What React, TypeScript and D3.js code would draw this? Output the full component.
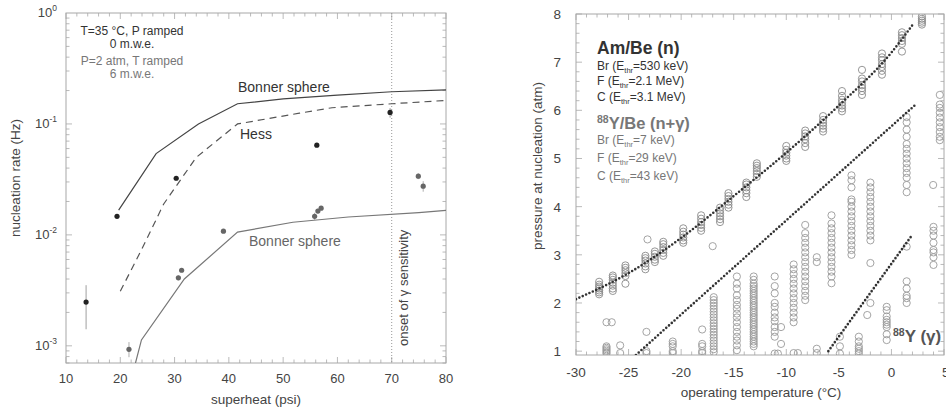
import React from "react";
import * as d3 from "d3";

const W = 946;
const H = 412;
const FONT = "'Liberation Sans', Arial, Helvetica, sans-serif";

// ---------------- Left panel data ----------------
const bonnerUpperX = [19.7, 26.6, 34.4, 41.6, 50, 60, 70, 80];
const bonnerUpperY = [0.0167, 0.054, 0.1, 0.152, 0.168, 0.182, 0.195, 0.203];
const hessX = [20, 24, 28, 34, 41.6, 53, 59, 70, 80];
const hessY = [0.0031, 0.0075, 0.019, 0.05, 0.1, 0.125, 0.14, 0.152, 0.163];
const bonnerLowerX = [22.8, 23.9, 31.8, 41.6, 51.8, 62, 75, 80];
const bonnerLowerY = [0.0007, 0.00113, 0.004, 0.0106, 0.013, 0.0145, 0.0159, 0.0166];

// T=35 C, P ramped (black)
const rampPX = [13.7, 19.4, 30.3, 56.2, 69.7];
const rampPY = [0.00248, 0.0147, 0.0324, 0.0643, 0.127];
const rampPLo = [0.00141, 0.0142, 0.0312, 0.062, 0.114];
const rampPHi = [0.00352, 0.0152, 0.0336, 0.0666, 0.139];
// P=2 atm, T ramped (gray)
const rampTX = [21.6, 30.7, 31.3, 39.0, 55.8, 56.4, 57.0, 74.9, 75.8];
const rampTY = [0.00093, 0.0041, 0.0048, 0.0108, 0.0147, 0.0164, 0.0174, 0.0338, 0.0275];
const rampTLo = [0.00079, 0.0039, 0.0046, 0.0104, 0.0136, 0.0156, 0.0168, 0.0318, 0.0245];
const rampTHi = [0.00108, 0.0043, 0.005, 0.0112, 0.0158, 0.0172, 0.018, 0.0358, 0.0305];

const leftXTicks = [10, 20, 30, 40, 50, 60, 70, 80];
const leftYTickExp = [0, -1, -2, -3];
const onsetX = 70;

// ---------------- Right panel data ----------------
const amBeT = [-27.8, -26.5, -25.3, -23.4, -22.5, -21.7, -19.8, -18.1, -16.3, -15.5, -13.8, -12.8, -10.0, -8.2, -6.5, -4.7, -2.8, -0.9, 1.0, 2.9];
const amBeP = [
  [2.18, 2.22, 2.26, 2.3, 2.34, 2.38, 2.44],
  [2.25, 2.3, 2.36, 2.42, 2.48, 2.53, 2.57],
  [2.4, 2.56, 2.62, 2.68, 2.73, 2.78],
  [2.7, 2.76, 2.82, 2.88, 2.93, 2.98],
  [2.85, 2.9, 2.96, 3.02, 3.07],
  [2.98, 3.04, 3.1, 3.16, 3.22, 3.27],
  [3.25, 3.3, 3.36, 3.42, 3.48, 3.55],
  [3.5, 3.56, 3.62, 3.68, 3.75, 3.82],
  [3.68, 3.74, 3.8, 3.86, 3.92, 3.98],
  [3.98, 4.04, 4.1, 4.16, 4.22, 4.28],
  [4.2, 4.28, 4.34, 4.4, 4.46, 4.5],
  [4.62, 4.68, 4.74, 4.8, 4.85, 4.9],
  [4.95, 5.0, 5.06, 5.12, 5.18, 5.26],
  [5.24, 5.32, 5.4, 5.46, 5.52, 5.58],
  [5.56, 5.62, 5.68, 5.74, 5.8, 5.88],
  [5.98, 6.04, 6.1, 6.16, 6.22, 6.3, 6.4],
  [6.32, 6.4, 6.46, 6.52, 6.6, 6.66, 6.84],
  [6.74, 6.82, 6.9, 6.96, 7.04, 7.1, 7.18],
  [7.22, 7.38, 7.44, 7.5, 7.56, 7.62],
  [7.78, 7.82, 7.86, 7.9, 7.95],
];

const yBeT = [-27.1, -25.8, -23.3, -20.8, -18.0, -16.9, -14.7, -13.1, -11.1, -10.5, -9.3, -8.2, -7.1, -5.7, -3.8, -2.0, 1.45, 4.6, 3.97, -17.0, -23.2];
const yBeP = [
  [0.95, 0.98, 1.01, 1.04, 1.07, 1.1, 1.6],
  [0.96, 1.12],
  [0.96, 1.0, 1.4],
  [0.96, 1.0, 1.1, 1.15, 1.2],
  [0.96, 1.0, 1.1, 1.15, 1.45],
  [0.98, 1.04, 1.1, 1.16, 1.22, 1.28, 1.34, 1.4, 1.46, 1.52, 1.58, 1.64, 1.7, 1.76, 1.82, 1.88, 1.94, 2.0, 2.06, 2.12],
  [1.02, 1.12, 1.22, 1.3, 1.4, 1.5, 1.6, 1.7, 1.78, 1.88, 1.96, 2.06, 2.16, 2.3, 2.4, 2.55],
  [1.1, 1.15, 1.2, 1.25, 1.3, 1.35, 1.4, 1.45, 1.5, 1.55, 1.6, 1.65, 1.7, 1.75, 1.8, 1.85, 1.9, 1.95, 2.0, 2.05, 2.1, 2.15, 2.2, 2.25, 2.3, 2.35, 2.4, 2.48, 2.55],
  [0.95, 1.3, 1.4, 1.5, 1.62, 1.7, 1.8, 1.92, 2.0, 2.2, 2.35, 2.55],
  [1.15, 1.5],
  [1.6, 1.7, 1.8, 1.9, 2.0, 2.1, 2.2, 2.3, 2.4, 2.5, 2.6, 2.7, 2.8, 0.96],
  [2.06, 2.15, 2.25, 2.35, 2.45, 2.55, 2.65, 2.75, 2.85, 2.95, 3.05, 3.15, 3.25, 3.35, 3.45, 3.62],
  [0.96, 1.05, 2.85, 2.95],
  [2.41, 2.55, 2.65, 2.75, 2.85, 2.95, 3.05, 3.15, 3.25, 3.35, 3.45, 3.55, 3.65, 3.82],
  [3.0, 3.1, 3.2, 3.3, 3.4, 3.5, 3.6, 3.7, 3.8, 3.9, 4.0, 4.1, 4.15, 4.4, 4.55, 4.65],
  [2.0, 2.83, 3.3, 3.4, 3.5, 3.6, 3.7, 3.8, 3.9, 4.0, 4.1, 4.2, 4.3, 4.4, 4.5],
  [4.3, 4.45, 4.6, 4.7, 4.8, 4.9, 5.0, 5.1, 5.2, 5.3, 5.45, 5.6, 5.75, 5.86],
  [5.38, 5.45, 5.55, 5.65, 5.75, 5.85, 5.95, 6.05, 6.12, 6.32],
  [4.45],
  [3.18],
  [3.32],
];

const gammaT = [-4.9, -3.1, -2.3, -0.45, 1.45, 4.0, -26.6, -10.8, -8.9];
const gammaP = [
  [0.95, 1.1, 1.3],
  [0.95, 1.0, 1.05, 1.1, 1.2, 1.3],
  [1.75],
  [1.23, 1.35, 1.5, 1.55, 1.6, 1.65, 1.72, 1.85, 1.92],
  [2.0, 2.1, 2.15, 2.3, 2.45, 3.17],
  [2.79, 2.95, 3.05, 3.1, 3.25, 3.4, 3.5, 3.58],
  [1.6],
  [0.95],
  [0.96],
];

const fitAmBeT = [-30, -25, -20, -15, -10, -5, 0, 2.1];
const fitAmBeP = [2.08, 2.62, 3.35, 4.22, 5.12, 6.1, 7.2, 7.8];
const fitYBeT = [-24.3, 2.2];
const fitYBeP = [0.92, 6.1];
const fitGammaT = [-6.0, 2.0];
const fitGammaP = [1.0, 3.42];

const rightXTicks = [-30, -25, -20, -15, -10, -5, 0, 5];
const rightYTicks = [1, 2, 3, 4, 5, 6, 7, 8];

// ---------------- Layout ----------------
const L = { left: 66, right: 446, top: 13, bottom: 363 };
const R = { left: 576, right: 944, top: 14, bottom: 355 };

const xL = d3.scaleLinear().domain([10, 80]).range([L.left, L.right]);
const yL = d3.scaleLog().domain([7e-4, 1]).range([L.bottom, L.top]);
const xR = d3.scaleLinear().domain([-30, 5]).range([R.left, R.right]);
const yR = d3.scaleLinear().domain([0.92, 8]).range([R.bottom, R.top]);

const frameColor = "#a8a8a8";
const tickTextColor = "#444";

function zip(xs: number[], ys: number[]): [number, number][] {
  return xs.map((x, i) => [x, ys[i]]);
}

function Sub({ pre, post }: { pre: string; post: string }) {
  return (
    <>
      {pre}
      <tspan dy={3} fontSize={7.5}>thr</tspan>
      <tspan dy={-3}>{post}</tspan>
    </>
  );
}

export default function App() {
  const lineL = d3.line<[number, number]>().x((d) => xL(d[0])).y((d) => yL(d[1]));
  const lineR = d3.line<[number, number]>().x((d) => xR(d[0])).y((d) => yR(d[1]));
  const lineRCurve = d3
    .line<[number, number]>()
    .x((d) => xR(d[0]))
    .y((d) => yR(d[1]))
    .curve(d3.curveMonotoneX);

  const lxMinor = d3.range(10, 80.01, 2);
  const lyMinor: number[] = [];
  for (let e = -4; e < 0; e++)
    for (let m = 1; m < 10; m++) {
      const v = m * Math.pow(10, e);
      if (v >= 7e-4 && v <= 1) lyMinor.push(v);
    }
  const rxMinor = d3.range(-30, 5.01, 1);
  const ryMinor = d3.range(1, 8.001, 0.2);

  const circles: { t: number; p: number; c: string }[] = [];
  amBeT.forEach((t, i) => amBeP[i].forEach((p) => circles.push({ t, p, c: "#8a8a8a" })));
  yBeT.forEach((t, i) => yBeP[i].forEach((p) => circles.push({ t, p, c: "#9a9a9a" })));
  gammaT.forEach((t, i) => gammaP[i].forEach((p) => circles.push({ t, p, c: "#9a9a9a" })));

  const dotted = {
    fill: "none",
    stroke: "#333",
    strokeWidth: 2.6,
    strokeDasharray: "0 3.7",
    strokeLinecap: "round" as const,
  };

  return (
    <svg
      width={W}
      height={H}
      style={{ position: "absolute", left: 0, top: 0, background: "#fff" }}
      fontFamily={FONT}
    >
      <defs>
        <clipPath id="clipL">
          <rect x={L.left} y={L.top} width={L.right - L.left} height={L.bottom - L.top} />
        </clipPath>
        <clipPath id="clipR">
          <rect x={R.left} y={R.top} width={R.right - R.left} height={R.bottom - R.top} />
        </clipPath>
      </defs>
      <rect x={0} y={0} width={W} height={H} fill="#fff" />

      {/* ================= LEFT PANEL ================= */}
      <g>
        {lxMinor.map((v) => {
          const major = v % 10 === 0;
          const len = major ? 6 : 3.5;
          return (
            <g key={"lx" + v} stroke={frameColor} strokeWidth={0.8}>
              <line x1={xL(v)} x2={xL(v)} y1={L.bottom} y2={L.bottom - len} />
              <line x1={xL(v)} x2={xL(v)} y1={L.top} y2={L.top + len} />
            </g>
          );
        })}
        {lyMinor.map((v, i) => {
          const major = Math.abs(Math.log10(v) - Math.round(Math.log10(v))) < 1e-9;
          const len = major ? 6 : 3.5;
          return (
            <g key={"ly" + i} stroke={frameColor} strokeWidth={0.8}>
              <line x1={L.left} x2={L.left + len} y1={yL(v)} y2={yL(v)} />
              <line x1={L.right} x2={L.right - len} y1={yL(v)} y2={yL(v)} />
            </g>
          );
        })}
        <rect
          x={L.left}
          y={L.top}
          width={L.right - L.left}
          height={L.bottom - L.top}
          fill="none"
          stroke={frameColor}
          strokeWidth={1}
        />
        {leftXTicks.map((v) => (
          <text key={"lxt" + v} x={xL(v)} y={383} textAnchor="middle" fontSize={13} fill={tickTextColor}>
            {v}
          </text>
        ))}
        {leftYTickExp.map((e) => (
          <text key={"lyt" + e} x={57} y={yL(Math.pow(10, e)) + 4} textAnchor="end" fontSize={13} fill={tickTextColor}>
            10
            <tspan dy={-6} fontSize={8.5}>
              {e === 0 ? "0" : String(e)}
            </tspan>
          </text>
        ))}
        <text x={256} y={404} textAnchor="middle" fontSize={13.5} fill={tickTextColor}>
          superheat (psi)
        </text>
        <text transform={`translate(20,178) rotate(-90)`} textAnchor="middle" fontSize={13.5} fill={tickTextColor}>
          nucleation rate (Hz)
        </text>

        <line
          x1={xL(onsetX)}
          x2={xL(onsetX)}
          y1={L.top}
          y2={L.bottom}
          stroke="#999"
          strokeWidth={1}
          strokeDasharray="1 2"
        />
        <text transform={`translate(${xL(onsetX) + 16},346) rotate(-90)`} fontSize={13} fill="#444">
          onset of γ sensitivity
        </text>

        <g clipPath="url(#clipL)">
          <path d={lineL(zip(bonnerUpperX, bonnerUpperY)) || ""} fill="none" stroke="#444" strokeWidth={1.2} />
          <path d={lineL(zip(hessX, hessY)) || ""} fill="none" stroke="#555" strokeWidth={1.2} strokeDasharray="7 5" />
          <path d={lineL(zip(bonnerLowerX, bonnerLowerY)) || ""} fill="none" stroke="#777" strokeWidth={1.2} />
        </g>

        {rampTX.map((x, i) => (
          <g key={"rt" + i}>
            <line x1={xL(x)} x2={xL(x)} y1={yL(rampTLo[i])} y2={yL(rampTHi[i])} stroke="#999" strokeWidth={0.8} />
            <circle cx={xL(x)} cy={yL(rampTY[i])} r={2.6} fill="#666" />
          </g>
        ))}
        {rampPX.map((x, i) => (
          <g key={"rp" + i}>
            <line x1={xL(x)} x2={xL(x)} y1={yL(rampPLo[i])} y2={yL(rampPHi[i])} stroke="#888" strokeWidth={0.8} />
            <circle cx={xL(x)} cy={yL(rampPY[i])} r={2.6} fill="#222" />
          </g>
        ))}

        <text x={238} y={92} fontSize={14} fill="#333">
          Bonner sphere
        </text>
        <text x={240} y={139} fontSize={14} fill="#333">
          Hess
        </text>
        <text x={249} y={246} fontSize={14} fill="#666">
          Bonner sphere
        </text>
        <g textAnchor="middle" fontSize={12}>
          <text x={132} y={35} fill="#333">
            T=35 °C, P ramped
          </text>
          <text x={132} y={48} fill="#333">
            0 m.w.e.
          </text>
          <text x={132} y={65} fill="#777">
            P=2 atm, T ramped
          </text>
          <text x={132} y={77.5} fill="#777">
            6 m.w.e.
          </text>
        </g>
      </g>

      {/* ================= RIGHT PANEL ================= */}
      <g>
        {rxMinor.map((v) => {
          const major = Math.abs(v % 5) < 1e-9;
          const len = major ? 6 : 3.5;
          return (
            <g key={"rx" + v} stroke={frameColor} strokeWidth={0.8}>
              <line x1={xR(v)} x2={xR(v)} y1={R.bottom} y2={R.bottom - len} />
              <line x1={xR(v)} x2={xR(v)} y1={R.top} y2={R.top + len} />
            </g>
          );
        })}
        {ryMinor.map((v, i) => {
          const major = Math.abs(v - Math.round(v)) < 1e-6;
          const len = major ? 6 : 3.5;
          return (
            <g key={"ry" + i} stroke={frameColor} strokeWidth={0.8}>
              <line x1={R.left} x2={R.left + len} y1={yR(v)} y2={yR(v)} />
              <line x1={R.right} x2={R.right - len} y1={yR(v)} y2={yR(v)} />
            </g>
          );
        })}
        <rect
          x={R.left}
          y={R.top}
          width={R.right - R.left}
          height={R.bottom - R.top}
          fill="none"
          stroke={frameColor}
          strokeWidth={1}
        />
        {rightXTicks.map((v) => (
          <text
            key={"rxt" + v}
            x={v === 5 ? xR(v) - 2 : xR(v)}
            y={377}
            textAnchor={v === 5 ? "start" : "middle"}
            fontSize={13.5}
            fill={tickTextColor}
          >
            {v}
          </text>
        ))}
        {rightYTicks.map((v) => (
          <text key={"ryt" + v} x={561} y={yR(v) + 5} textAnchor="end" fontSize={13.5} fill={tickTextColor}>
            {v}
          </text>
        ))}
        <text x={761} y={397} textAnchor="middle" fontSize={13.5} fill={tickTextColor}>
          operating temperature (°C)
        </text>
        <text transform={`translate(542,166) rotate(-90)`} textAnchor="middle" fontSize={13.5} fill={tickTextColor}>
          pressure at nucleation (atm)
        </text>

        <g clipPath="url(#clipR)">
          {circles.map((d, i) => (
            <circle key={"c" + i} cx={xR(d.t)} cy={yR(d.p)} r={3.6} fill="none" stroke={d.c} strokeWidth={0.9} />
          ))}
          <path d={lineRCurve(zip(fitAmBeT, fitAmBeP)) || ""} {...dotted} />
          <path d={lineR(zip(fitYBeT, fitYBeP)) || ""} {...dotted} />
          <path d={lineR(zip(fitGammaT, fitGammaP)) || ""} {...dotted} />
        </g>

        <g fill="#333">
          <text x={597} y={54} fontSize={17.5} fontWeight="bold">
            Am/Be (n)
          </text>
          <text x={597} y={70} fontSize={12}>
            <Sub pre="Br (E" post="=530 keV)" />
          </text>
          <text x={597} y={85} fontSize={12}>
            <Sub pre="F (E" post="=2.1 MeV)" />
          </text>
          <text x={597} y={101} fontSize={12}>
            <Sub pre="C (E" post="=3.1 MeV)" />
          </text>
        </g>
        <g fill="#777">
          <text x={597} y={129} fontSize={16.5} fontWeight="bold">
            <tspan dy={-6} fontSize={10.5}>88</tspan>
            <tspan dy={6}>Y/Be (n+γ)</tspan>
          </text>
          <text x={597} y={144} fontSize={12}>
            <Sub pre="Br (E" post="=7 keV)" />
          </text>
          <text x={597} y={162} fontSize={12}>
            <Sub pre="F (E" post="=29 keV)" />
          </text>
          <text x={597} y={180} fontSize={12}>
            <Sub pre="C (E" post="=43 keV)" />
          </text>
        </g>
        <text x={893} y={342} fontSize={17} fontWeight="bold" fill="#555">
          <tspan dy={-6} fontSize={10.5}>88</tspan>
          <tspan dy={6}>Y (γ)</tspan>
        </text>
      </g>
    </svg>
  );
}
